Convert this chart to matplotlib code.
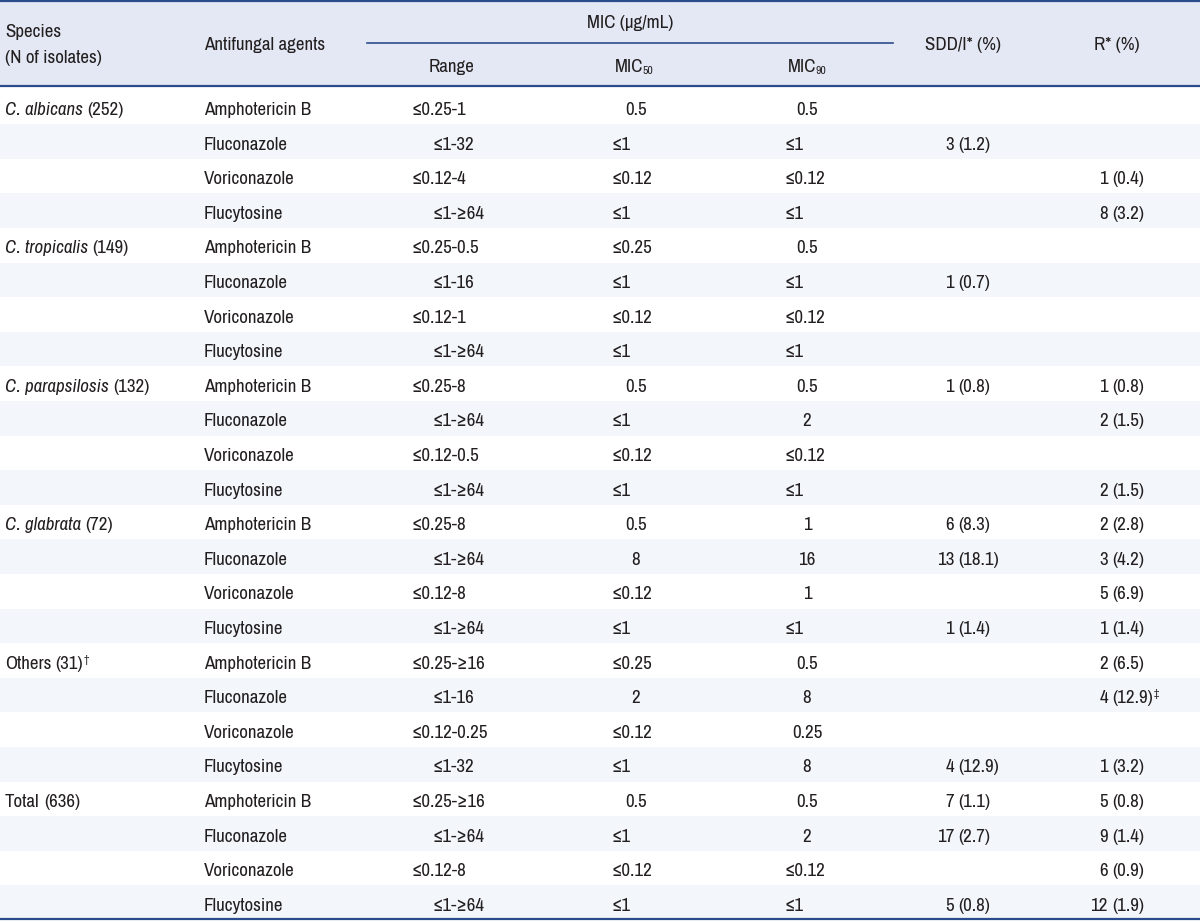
import matplotlib.pyplot as plt
from matplotlib import font_manager as fm
from matplotlib.patches import Rectangle

# the original uses a condensed grotesque; take a narrow face if one is there
narrow = sorted({f.name for f in fm.fontManager.ttflist
                 if "narrow" in f.name.lower() or "condensed" in f.name.lower()
                 or str(f.stretch) in ("condensed", "semi-condensed", "extra-condensed")})
FAMILY = narrow[0] if narrow else "Roboto"
plt.rcParams['font.family'] = [FAMILY, 'DejaVu Sans']

# ---------------------------------------------------------------------------
# data (one entry per table row, 4 agents per species group)
# ---------------------------------------------------------------------------
species = ["C. albicans", "C. tropicalis", "C. parapsilosis", "C. glabrata", "Others", "Total"]
isolates = [252, 149, 132, 72, 31, 636]
species_italic = [True, True, True, True, False, False]
species_mark = ["", "", "", "", "†", ""]
agents = ["Amphotericin B", "Fluconazole", "Voriconazole", "Flucytosine"]

mic_range = [
    "≤0.25-1", "≤1-32", "≤0.12-4", "≤1-≥64",
    "≤0.25-0.5", "≤1-16", "≤0.12-1", "≤1-≥64",
    "≤0.25-8", "≤1-≥64", "≤0.12-0.5", "≤1-≥64",
    "≤0.25-8", "≤1-≥64", "≤0.12-8", "≤1-≥64",
    "≤0.25-≥16", "≤1-16", "≤0.12-0.25", "≤1-32",
    "≤0.25-≥16", "≤1-≥64", "≤0.12-8", "≤1-≥64",
]
mic50 = [
    "0.5", "≤1", "≤0.12", "≤1",
    "≤0.25", "≤1", "≤0.12", "≤1",
    "0.5", "≤1", "≤0.12", "≤1",
    "0.5", "8", "≤0.12", "≤1",
    "≤0.25", "2", "≤0.12", "≤1",
    "0.5", "≤1", "≤0.12", "≤1",
]
mic90 = [
    "0.5", "≤1", "≤0.12", "≤1",
    "0.5", "≤1", "≤0.12", "≤1",
    "0.5", "2", "≤0.12", "≤1",
    "1", "16", "1", "≤1",
    "0.5", "8", "0.25", "8",
    "0.5", "2", "≤0.12", "≤1",
]
sdd = [
    "", "3 (1.2)", "", "",
    "", "1 (0.7)", "", "",
    "1 (0.8)", "", "", "",
    "6 (8.3)", "13 (18.1)", "", "1 (1.4)",
    "", "", "", "4 (12.9)",
    "7 (1.1)", "17 (2.7)", "", "5 (0.8)",
]
resist = [
    "", "", "1 (0.4)", "8 (3.2)",
    "", "", "", "",
    "1 (0.8)", "2 (1.5)", "", "2 (1.5)",
    "2 (2.8)", "3 (4.2)", "5 (6.9)", "1 (1.4)",
    "2 (6.5)", "4 (12.9)", "", "1 (3.2)",
    "5 (0.8)", "9 (1.4)", "6 (0.9)", "12 (1.9)",
]
resist_mark = [""] * 24
resist_mark[17] = "‡"

# ---------------------------------------------------------------------------
# layout / style
# ---------------------------------------------------------------------------
TXT = "#231f20"
LINE = "#2b4c8c"
HEAD_BG = "#e3e8f4"
ROW_BG = "#f3f6fb"

W, H = 1200, 922
HEAD_BOTTOM = 86
ROW_TOP = 89.5
ROW_H = 34.6
BASE0 = 115

fig = plt.figure(figsize=(W / 100, H / 100), dpi=100)
ax = fig.add_axes([0, 0, 1, 1])
ax.set_xlim(0, W)
ax.set_ylim(H, 0)
ax.axis("off")
rend = fig.canvas.get_renderer()


def width(t):
    return t.get_window_extent(renderer=rend).width


# size the font so "Amphotericin B" is about as wide as in the original (~108 px)
_t = ax.text(0, 0, "Amphotericin B", fontsize=12)
FS = min(14.0, 12 * 107 / width(_t))
_t.remove()


def runs(x, y, parts, ha="left"):
    """draw text pieces one after the other (italic / sub / sup)"""
    arts = []
    cx = x
    for s, kind in parts:
        if kind == "gap":
            cx += s
            continue
        kw = dict(fontsize=FS, color=TXT, va="baseline", ha="left")
        yy = y
        if kind == "i":
            kw["style"] = "italic"
        elif kind == "sub":
            kw["fontsize"] = FS * 0.62
            yy = y + 2
            cx -= 1
        elif kind == "sup":
            kw["fontsize"] = FS * 0.62
            yy = y - 6
        t = ax.text(cx, yy, s, **kw)
        cx += width(t)
        arts.append(t)
    total = cx - x
    shift = {"left": 0, "center": -total / 2, "right": -total}[ha]
    for t in arts:
        t.set_x(t.get_position()[0] + shift)
    return total


_a = ax.text(0, 0, "x x", fontsize=FS)
_b = ax.text(0, 0, "xx", fontsize=FS)
SP = width(_a) - width(_b)
_a.remove()
_b.remove()

# header background and rules
ax.add_patch(Rectangle((0, 0), W, HEAD_BOTTOM, color=HEAD_BG, lw=0))
for i in range(24):
    if i % 2 == 1:
        ax.add_patch(Rectangle((0, ROW_TOP + i * ROW_H), W, ROW_H, color=ROW_BG, lw=0))
ax.plot([0, W], [1, 1], color=LINE, lw=1.6)
ax.plot([0, W], [HEAD_BOTTOM, HEAD_BOTTOM], color=LINE, lw=1.6)
ax.plot([367, 893], [43, 43], color=LINE, lw=1.2)
ax.plot([0, W], [919, 919], color=LINE, lw=1.6)

# header text
runs(5, 37, [("Species", "n")])
runs(5, 63, [("(N of isolates)", "n")])
runs(204, 50, [("Antifungal agents", "n")])
runs(630, 28, [("MIC (μg/mL)", "n")], ha="center")
runs(452, 72, [("Range", "n")], ha="center")
runs(634, 72, [("MIC", "n"), ("50", "sub")], ha="center")
runs(807, 72, [("MIC", "n"), ("90", "sub")], ha="center")
runs(963, 50, [("SDD/I* (%)", "n")], ha="center")
runs(1117, 50, [("R* (%)", "n")], ha="center")


def count_pct(anchor, y, s, mark=""):
    if not s:
        return
    n, p = s.split(" ", 1)
    runs(anchor, y, [(n, "n")], ha="right")
    parts = [(p, "n")]
    if mark:
        parts.append((mark, "sup"))
    runs(anchor + SP, y, parts)


# body
for g, name in enumerate(species):
    y = BASE0 + g * 4 * ROW_H
    parts = [(name, "i" if species_italic[g] else "n"), (SP, "gap"), (f"({isolates[g]})", "n")]
    if species_mark[g]:
        parts.append((species_mark[g], "sup"))
    runs(5, y, parts)

for i in range(24):
    y = BASE0 + i * ROW_H
    runs(204, y, [(agents[i % 4], "n")])

    rx = 412 if mic_range[i].startswith("≤0") else 433
    runs(rx, y, [(mic_range[i], "n")])

    if mic50[i].startswith("≤"):
        runs(612, y, [(mic50[i], "n")])
    else:
        runs(636, y, [(mic50[i], "n")], ha="center")

    if mic90[i].startswith("≤"):
        runs(785, y, [(mic90[i], "n")])
    else:
        runs(807, y, [(mic90[i], "n")], ha="center")

    count_pct(954, y, sdd[i])
    count_pct(1108, y, resist[i], resist_mark[i])

fig.savefig("out.png", dpi=100)
